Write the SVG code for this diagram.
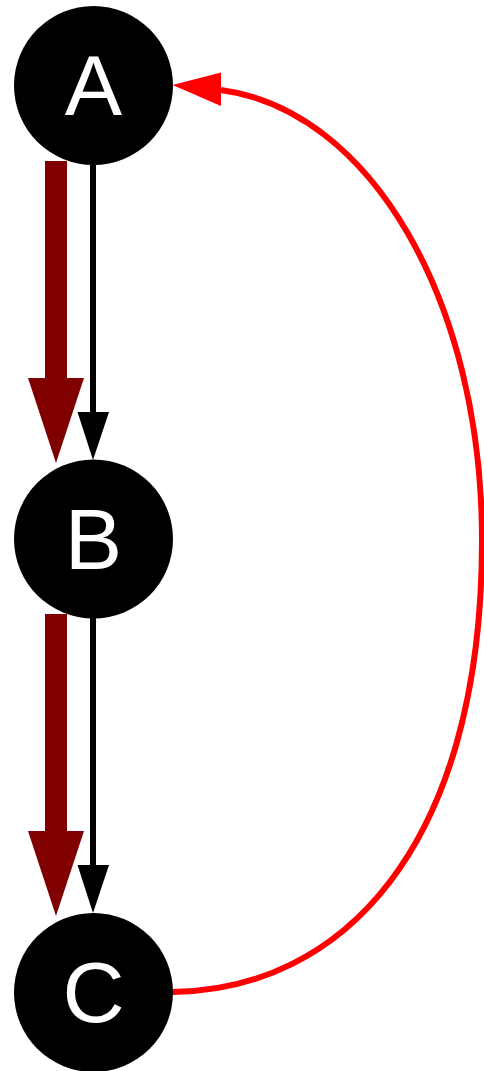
<svg xmlns="http://www.w3.org/2000/svg" width="484" height="1071" viewBox="0 0 484 1071">
<style>
.node circle{fill:#000;stroke:none}
.node text{fill:#fff;font-family:"Liberation Sans",Arial,sans-serif;font-size:86px;text-anchor:middle}
.thick{stroke:#800000;stroke-width:22;fill:none}
.thin{stroke:#000;stroke-width:6;fill:none}
.back{stroke:#ff0000;stroke-width:6;fill:none}
</style>
<rect width="484" height="1071" fill="#fff"/>
<g id="edges">
<line class="thick" x1="56" y1="161" x2="56" y2="379"/>
<polygon points="28,378 84,378 56,463" fill="#800000"/>
<line class="thin" x1="93" y1="165" x2="93" y2="414"/>
<polygon points="77.5,412 109,412 93,460" fill="#000"/>
<line class="thick" x1="56" y1="614" x2="56" y2="832"/>
<polygon points="28,831 84,831 56,916" fill="#800000"/>
<line class="thin" x1="93" y1="618" x2="93" y2="867"/>
<polygon points="77.5,865 109,865 93,913" fill="#000"/>
<path class="back" d="M173,992 C340,990 482,850 482,540 C482,300 370,110 221,90"/>
<polygon points="221,72.5 221,106 172.5,85" fill="#ff0000"/>
</g>
<g id="node-A" class="node"><circle cx="93.5" cy="85.5" r="79.5"/><text x="93.5" y="115">A</text></g>
<g id="node-B" class="node"><circle cx="93.5" cy="539" r="79.5"/><text x="93.5" y="569">B</text></g>
<g id="node-C" class="node"><circle cx="93.5" cy="992.5" r="79.5"/><text x="93.5" y="1022">C</text></g>
</svg>
